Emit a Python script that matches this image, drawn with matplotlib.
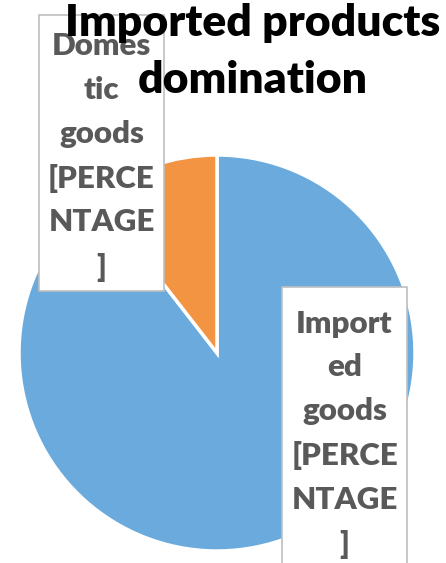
from matplotlib import pyplot as plt
from matplotlib.patches import Rectangle

categories = ['Imported goods', 'Domestic goods']
shares = [89.5, 10.5]
colors = ['#6AAADC', '#F29442']

# wrapped data-label text as it sits in the narrow label boxes
label_lines = {
    'Imported goods': 'Import\ned\ngoods\n[PERCE\nNTAGE\n]',
    'Domestic goods': 'Domes\ntic\ngoods\n[PERCE\nNTAGE\n]',
}

plt.rcParams['font.family'] = ['Lato', 'DejaVu Sans']

fig = plt.figure(figsize=(4.46, 5.63), dpi=100)
fig.patch.set_facecolor('white')

ax = fig.add_axes([19 / 446, 12 / 563, 396 / 446, 396 / 563])
ax.pie(shares, colors=colors, startangle=90, counterclock=False,
       wedgeprops=dict(edgecolor='white', linewidth=2.5))
ax.set_xlim(-1, 1)
ax.set_ylim(-1, 1)
ax.set_aspect('equal')
ax.axis('off')

# label boxes (figure pixel layout -> fractions)
W, H = 446, 563
boxes = {
    'Domestic goods': (39, 15, 164, 291, 101.5, 157),
    'Imported goods': (282, 287, 407, 575, 344.5, 434.5),
}
for name in categories:
    x0, y0, x1, y1, tx, ty = boxes[name]
    rect = Rectangle((x0 / W, 1 - y1 / H), (x1 - x0) / W, (y1 - y0) / H,
                     transform=fig.transFigure, facecolor='white',
                     edgecolor='#BFBFBF', linewidth=1.2, zorder=2)
    fig.add_artist(rect)
    fig.text(tx / W, 1 - ty / H, label_lines[name], ha='center', va='center',
             fontsize=22.5, fontweight='heavy', color='#595959',
             linespacing=1.68, zorder=3)

fig.text(253 / W, 1 - 51.5 / H, 'Imported products\ndomination', ha='center',
         va='center', fontsize=32, fontweight='heavy', color='black',
         linespacing=1.5, zorder=4)

plt.savefig('out.png', dpi=100)
